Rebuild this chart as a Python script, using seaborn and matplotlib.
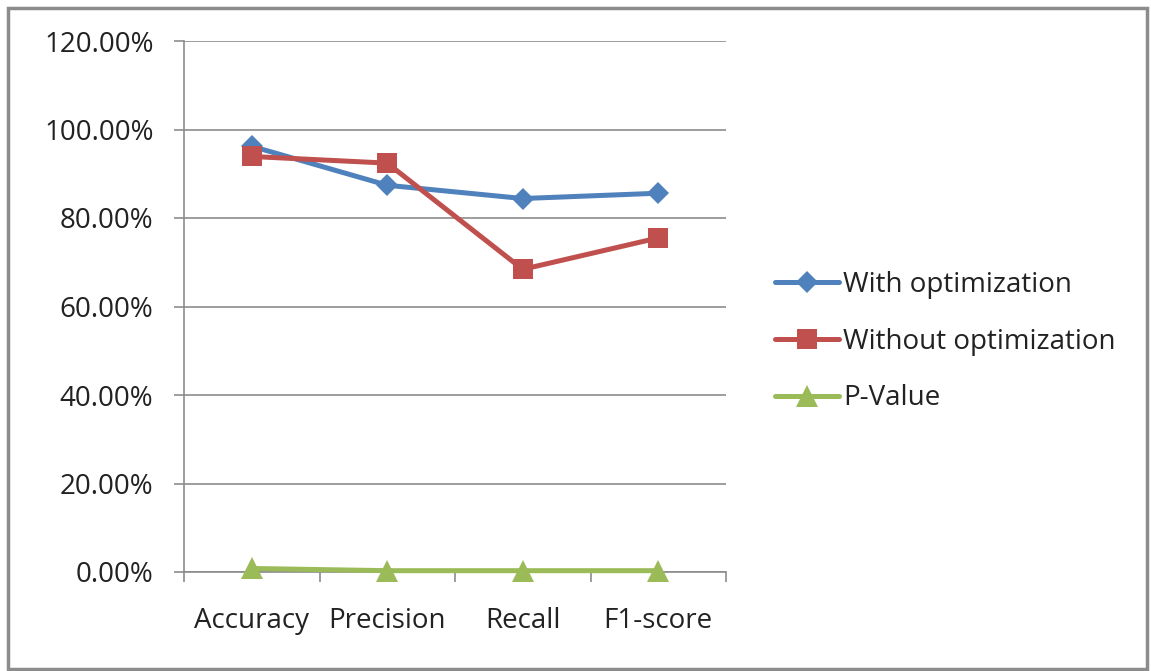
import matplotlib
matplotlib.use("Agg")
import matplotlib.pyplot as plt
import matplotlib.patches as mpatches
from matplotlib.ticker import FuncFormatter, FixedLocator
import seaborn as sns
import pandas as pd

# Evaluation metrics (fractions)
metrics = ["Accuracy", "Precision", "Recall", "F1-score"]
with_opt = [0.962, 0.874, 0.844, 0.856]
without_opt = [0.939, 0.924, 0.684, 0.755]
p_value = [0.008, 0.003, 0.003, 0.003]

series_names = ["With optimization", "Without optimization", "P-Value"]
y_ticks = [0.0, 0.2, 0.4, 0.6, 0.8, 1.0, 1.2]

df = pd.DataFrame({
    "metric": metrics * 3,
    "value": with_opt + without_opt + p_value,
    "series": [series_names[0]] * 4 + [series_names[1]] * 4 + [series_names[2]] * 4,
})

sns.set_style("white")
plt.rcParams["font.family"] = ["Open Sans", "DejaVu Sans"]

FS = 20
fig = plt.figure(figsize=(11.51, 6.71), dpi=100)
ax = fig.add_axes([184 / 1151, 1 - 572 / 671, (726 - 184) / 1151, (572 - 41) / 671])

palette = {series_names[0]: "#4F81BD", series_names[1]: "#C0504D", series_names[2]: "#9BBB59"}
markers = {series_names[0]: "D", series_names[1]: "s", series_names[2]: "^"}
sizes = {series_names[0]: 11.5, series_names[1]: 15, series_names[2]: 16}

for name in series_names:
    sub = df[df["series"] == name]
    sns.lineplot(data=sub, x="metric", y="value", ax=ax, color=palette[name],
                 marker=markers[name], markersize=sizes[name], linewidth=3.6,
                 markeredgewidth=0, label=name, sort=False, zorder=3, clip_on=False)

ax.set_xlim(-0.5, 3.5)
ax.set_ylim(0, 1.2)
ax.set_yticks(y_ticks)
ax.yaxis.set_major_formatter(FuncFormatter(lambda v, _: f"{v * 100:.2f}%"))
ax.grid(axis="y", color="#8C8C8C", linewidth=1.2)
ax.set_axisbelow(True)
ax.set_xlabel("")
ax.set_ylabel("")

# Excel-style category axis: ticks on category boundaries
ax.set_xticks(range(len(metrics)))
ax.set_xticklabels(metrics)
ax.xaxis.set_minor_locator(FixedLocator([-0.5, 0.5, 1.5, 2.5, 3.5]))
ax.tick_params(axis="x", which="major", length=0, pad=25, labelsize=FS, colors="#222222")
ax.tick_params(axis="x", which="minor", length=7, width=1.2, direction="out", color="#8C8C8C", bottom=True)
ax.tick_params(axis="y", which="major", length=7, width=1.2, direction="out", color="#8C8C8C",
               pad=15, labelsize=FS, labelcolor="#222222", left=True)

for side in ["top", "right"]:
    ax.spines[side].set_visible(False)
for side in ["left", "bottom"]:
    ax.spines[side].set_color("#8C8C8C")
    ax.spines[side].set_linewidth(1.2)

handles, labels = ax.get_legend_handles_labels()
ax.legend_.remove()
fig.legend(handles, labels, loc="upper left", bbox_to_anchor=(775 / 1151, 1 - 271 / 671),
           frameon=False, fontsize=FS, handlelength=2.3, handletextpad=0.15,
           labelspacing=1.03, borderpad=0, borderaxespad=0, labelcolor="#222222")

# Chart-area border
fig.patches.append(mpatches.Rectangle((8 / 1151, 2 / 671), 1 - 12 / 1151, 1 - 10 / 671,
                                      transform=fig.transFigure, fill=False,
                                      edgecolor="#8C8C8C", linewidth=2.5))

fig.savefig("out.png", dpi=100, facecolor="white")
